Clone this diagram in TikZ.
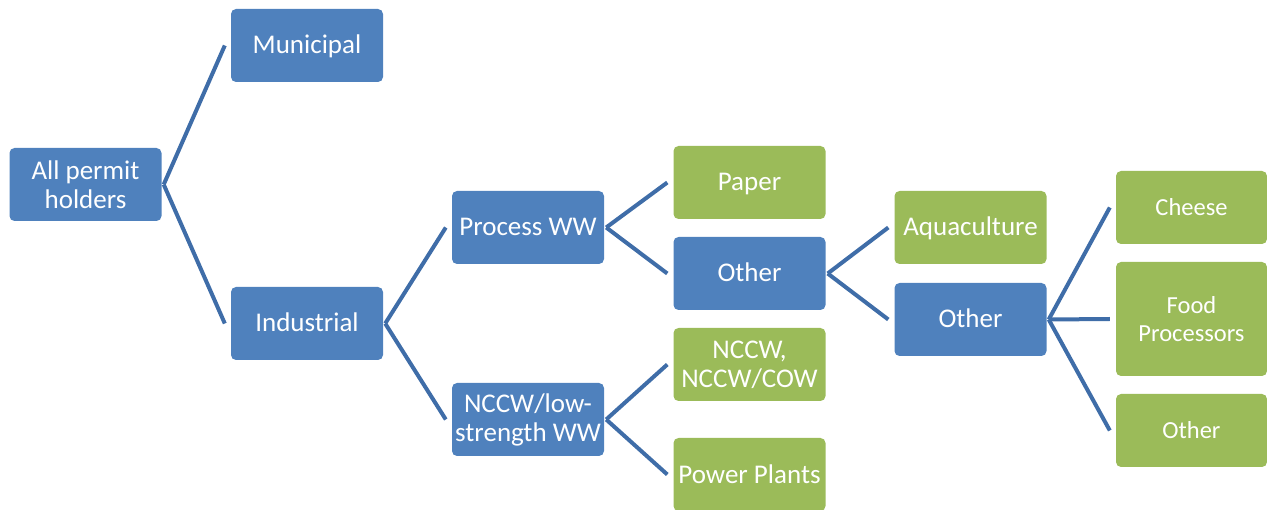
\documentclass[tikz,border=0pt]{standalone}
\usepackage{fontspec}
\setmainfont{Carlito}
\definecolor{boxblue}{HTML}{4F81BD}
\definecolor{boxgreen}{HTML}{9BBB59}
\definecolor{linkblue}{HTML}{3F6DA8}
\begin{document}
\begin{tikzpicture}[x=1pt,y=-1pt,
  base/.style={rounded corners=5pt, minimum width=152pt, minimum height=73pt,
    inner sep=2pt, text=white, align=center,
    font=\fontsize{27}{29}\selectfont},
  one/.style={text height=19pt, text depth=2pt},
  bluebox/.style={base, fill=boxblue},
  greenbox/.style={base, fill=boxgreen},
  small/.style={font=\fontsize{24.5}{27.5}\selectfont},
  link/.style={draw=linkblue, line width=4pt}]
\useasboundingbox (0,0) rectangle (1267,510);
\clip (0,0) rectangle (1267,510);
% level 0
\node[bluebox] (all) at (85.5,184.5) {All permit\\holders};
% level 1
\node[bluebox, one] (mun) at (307,45.5) {Municipal};
\node[bluebox, one] (ind) at (307,323.5) {Industrial};
% level 2
\node[bluebox, one] (proc) at (528,227.5) {Process WW};
\node[bluebox] (nccw) at (528,419.5) {NCCW/low-\\strength WW};
% level 3
\node[greenbox, one] (paper) at (749.5,182.5) {Paper};
\node[bluebox, one] (oth1) at (749.5,273.5) {Other};
\node[greenbox] (cow) at (749.5,364.5) {NCCW,\\NCCW/COW};
\node[greenbox, one] (power) at (749.5,474.5) {Power Plants};
% level 4
\node[greenbox, one] (aqua) at (970.5,227.5) {Aquaculture};
\node[bluebox, one] (oth2) at (970.5,319.5) {Other};
% level 5
\node[greenbox, one, small, minimum width=151pt] (cheese) at (1191.5,207.5) {Cheese};
\node[greenbox, small, minimum width=151pt, minimum height=114pt] (food) at (1191.5,319) {\rule{0pt}{3pt}Food\\Processors};
\node[greenbox, one, small, minimum width=151pt] (oth3) at (1191.5,430.5) {Other};
% connectors
\foreach \p/\c in {all/mun, all/ind, ind/proc, ind/nccw, proc/paper, proc/oth1,
                   nccw/cow, nccw/power, oth1/aqua, oth1/oth2,
                   oth2/cheese, oth2/food, oth2/oth3}
  \draw[link] ([xshift=2pt]\p.east) -- ([xshift=-6pt]\c.west);
\end{tikzpicture}
\end{document}
